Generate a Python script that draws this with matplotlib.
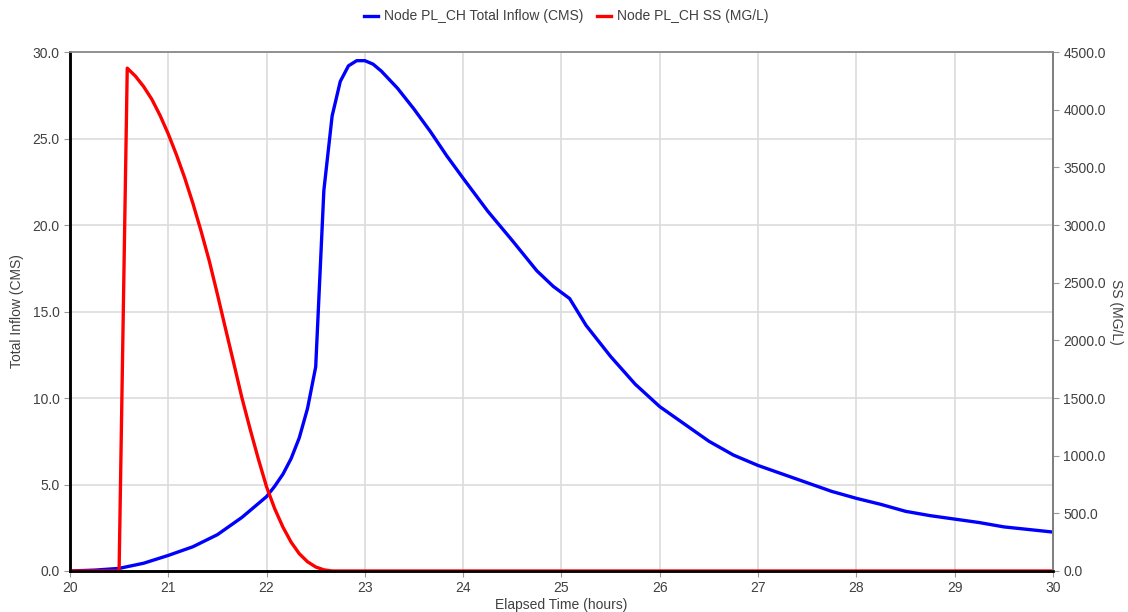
import matplotlib
matplotlib.use('Agg')
import matplotlib.pyplot as plt
from matplotlib.ticker import FormatStrFormatter

plt.rcParams['font.family'] = ['Liberation Sans', 'DejaVu Sans']

# total inflow (CMS)
inflow_t = [20.0, 20.25, 20.5, 20.583, 20.667, 20.75, 20.833, 20.917, 21.0,
            21.25, 21.5, 21.75, 22.0, 22.083, 22.167, 22.25, 22.333, 22.417,
            22.5, 22.583, 22.667, 22.75, 22.833, 22.917, 23.0, 23.083, 23.167,
            23.25, 23.333, 23.5, 23.667, 23.833, 24.0, 24.25, 24.5, 24.75,
            24.917, 25.083, 25.25, 25.5, 25.75, 26.0, 26.25, 26.5, 26.75, 27.0,
            27.25, 27.5, 27.75, 28.0, 28.25, 28.5, 28.75, 29.0, 29.25, 29.5,
            29.75, 30.0]
inflow = [0.0, 0.05, 0.15, 0.25, 0.35, 0.45, 0.6, 0.75, 0.9,
          1.4, 2.1, 3.1, 4.3, 4.9, 5.6, 6.5, 7.7, 9.4,
          11.8, 22.0, 26.3, 28.3, 29.2, 29.5, 29.5, 29.3, 28.9,
          28.4, 27.9, 26.7, 25.4, 24.0, 22.7, 20.8, 19.1, 17.35,
          16.45, 15.75, 14.2, 12.4, 10.8, 9.5, 8.5, 7.5, 6.7, 6.1,
          5.6, 5.1, 4.6, 4.2, 3.85, 3.45, 3.2, 3.0, 2.8, 2.55,
          2.4, 2.25]

# suspended solids (MG/L)
ss_t = [20.0, 20.5, 20.583, 20.667, 20.75, 20.833, 20.917, 21.0, 21.083,
        21.167, 21.25, 21.333, 21.417, 21.5, 21.583, 21.667, 21.75, 21.833,
        21.917, 22.0, 22.083, 22.167, 22.25, 22.333, 22.417, 22.5, 22.583,
        22.667, 30.0]
ss = [0, 0, 4360, 4290, 4200, 4090, 3950, 3790, 3610,
      3410, 3190, 2950, 2690, 2400, 2100, 1800, 1500, 1230,
      970, 730, 540, 380, 250, 150, 80, 35, 10,
      0, 0]

fig = plt.figure(figsize=(11.28, 6.12), dpi=100)
ax = fig.add_axes([0.062, 0.067, 0.8715, 0.848])
ax2 = ax.twinx()

txt = '#404040'
l1, = ax.plot(inflow_t, inflow, color='#0000ff', lw=2.4, label='Node PL_CH Total Inflow (CMS)')
l2, = ax2.plot(ss_t, ss, color='#ff0000', lw=2.4, label='Node PL_CH SS (MG/L)')

ax.set_xlim(20, 30)
ax.set_ylim(0, 30)
ax2.set_ylim(0, 4500)
ax.set_xticks(range(20, 31))
ax.set_yticks([0, 5, 10, 15, 20, 25, 30])
ax2.set_yticks([0, 500, 1000, 1500, 2000, 2500, 3000, 3500, 4000, 4500])
ax.yaxis.set_major_formatter(FormatStrFormatter('%.1f'))
ax2.yaxis.set_major_formatter(FormatStrFormatter('%.1f'))

ax.grid(True, color='#dcdcdc', lw=1.2)
ax.set_axisbelow(True)

for a in (ax, ax2):
    a.tick_params(labelsize=10, colors='#999999', labelcolor=txt, length=4)
    a.spines['left'].set_color('black')
    a.spines['left'].set_linewidth(1.8)
    a.spines['bottom'].set_color('black')
    a.spines['bottom'].set_linewidth(1.8)
    a.spines['right'].set_color('#808080')
    a.spines['right'].set_linewidth(1.4)
    a.spines['top'].set_color('#909090')
    a.spines['top'].set_linewidth(1.2)

ax.set_xlabel('Elapsed Time (hours)', fontsize=10, color=txt, labelpad=2)
ax.set_ylabel('Total Inflow (CMS)', fontsize=10, color=txt, labelpad=6)
ax2.set_ylabel('SS (MG/L)', fontsize=10, color=txt, rotation=-90, labelpad=12)

fig.legend(handles=[l1, l2], loc='upper center', bbox_to_anchor=(0.502, 1.005),
           ncol=2, frameon=False, fontsize=10, handlelength=1.0,
           handletextpad=0.4, columnspacing=1.0, labelcolor=txt)

fig.savefig('out.png', dpi=100)
